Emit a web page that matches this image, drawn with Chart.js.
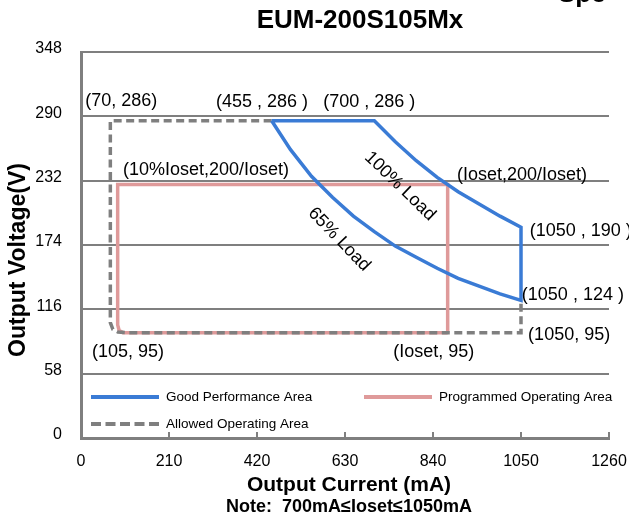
<!DOCTYPE html>
<html>
<head>
<meta charset="utf-8">
<script src="https://cdn.jsdelivr.net/npm/chart.js@4/dist/chart.umd.min.js"></script>
<style>
body{margin:0;background:#fff;}
</style>
</head>
<body>
<canvas id="chart" width="629" height="519"></canvas>
<script>
// axis ticks
var currentTicks = [0, 210, 420, 630, 840, 1050, 1260];
var voltageTicks = [0, 58, 116, 174, 232, 290, 348];

// Good Performance Area (100% load curve, then 65% load curve back)
var goodCurrent = [455, 700, 750, 800, 850, 900, 950, 1000, 1050, 1050, 1000, 950, 900, 850, 800, 750, 700, 650, 600, 550, 500, 455];
var goodVoltage = [286, 286, 267, 250, 235, 222, 211, 200, 190, 124, 130, 137, 144, 153, 163, 173, 186, 200, 217, 236, 260, 286];

// Programmed Operating Area (Ioset = 875mA)
var progCurrent = [875, 875, 87.5, 87.5, 91, 100, 875];
var progVoltage = [95, 228.6, 228.6, 102, 97, 95, 95];

// Allowed Operating Area
var allowCurrent = [455, 70, 70, 76, 88, 105, 1050, 1050];
var allowVoltage = [286, 286, 104, 98, 95.5, 95, 95, 124];

var seriesNames = ['Good Performance Area', 'Programmed Operating Area', 'Allowed Operating Area'];

var notes = [
    {text: '(70, 286)', i: 10, v: 304},
    {text: '(455 , 286 )', i: 322, v: 303},
    {text: '(700 , 286 )', i: 578, v: 303},
    {text: '(10%Ioset,200/Ioset)', i: 100, v: 242},
    {text: '(Ioset,200/Ioset)', i: 897, v: 237},
    {text: '(1050 , 190 )', i: 1071, v: 187},
    {text: '(1050 , 124 )', i: 1052, v: 129},
    {text: '(1050, 95)', i: 1067, v: 93},
    {text: '(Ioset, 95)', i: 745, v: 77.5},
    {text: '(105, 95)', i: 26, v: 77.5},
    {text: '100% Load', i: 761, v: 227, angle: 44, center: true},
    {text: '65% Load', i: 616, v: 179, angle: 46, center: true}
];

function toPoints(xs, ys) {
    var pts = [];
    for (var i = 0; i < xs.length; i++) pts.push({x: xs[i], y: ys[i]});
    return pts;
}

var blue = '#3a7bd5';
var pink = '#df9a9a';
var gray = '#7f7f7f';
var FONT = "'Liberation Sans', Arial, sans-serif";

var extras = {
    id: 'extras',
    afterDraw: function (chart) {
        var ctx = chart.ctx;
        var xs = chart.scales.x, ys = chart.scales.y;
        var area = chart.chartArea;
        ctx.save();
        ctx.fillStyle = '#000';

        // tick marks on the bottom axis, pointing up
        ctx.strokeStyle = gray;
        ctx.lineWidth = 2;
        currentTicks.forEach(function (t) {
            var px = xs.getPixelForValue(t);
            ctx.beginPath();
            ctx.moveTo(px, area.bottom);
            ctx.lineTo(px, area.bottom - 6);
            ctx.stroke();
        });

        // titles
        ctx.textAlign = 'center';
        ctx.textBaseline = 'middle';
        ctx.font = 'bold 26px ' + FONT;
        ctx.fillText('EUM-200S105Mx', 360, 21);
        ctx.textAlign = 'left';
        ctx.textBaseline = 'alphabetic';
        ctx.font = 'bold 26px ' + FONT;
        ctx.fillText('Spe', 558, 2);

        ctx.textAlign = 'center';
        ctx.textBaseline = 'middle';
        ctx.font = 'bold 21px ' + FONT;
        ctx.fillText('Output Current (mA)', 349, 485);
        ctx.font = 'bold 18px ' + FONT;
        ctx.fillText('Note:  700mA\u2264Ioset\u22641050mA', 349, 507);

        ctx.save();
        ctx.translate(19, 260);
        ctx.rotate(-Math.PI / 2);
        ctx.font = 'bold 23px ' + FONT;
        ctx.fillText('Output Voltage(V)', 0, 0);
        ctx.restore();

        // point annotations
        ctx.font = '18px ' + FONT;
        notes.forEach(function (n) {
            var px = xs.getPixelForValue(n.i), py = ys.getPixelForValue(n.v);
            ctx.save();
            ctx.translate(px, py);
            if (n.angle) ctx.rotate(n.angle * Math.PI / 180);
            ctx.textAlign = n.center ? 'center' : 'left';
            ctx.textBaseline = 'middle';
            ctx.fillText(n.text, 0, 0);
            ctx.restore();
        });

        // legend
        var items = [
            {color: blue, dash: [], x: 91, y: 397},
            {color: pink, dash: [], x: 364, y: 397},
            {color: gray, dash: [10, 4.5], x: 91, y: 424}
        ];
        ctx.font = '13.5px ' + FONT;
        ctx.textAlign = 'left';
        items.forEach(function (it, k) {
            ctx.strokeStyle = it.color;
            ctx.lineWidth = 4;
            ctx.setLineDash(it.dash);
            ctx.beginPath();
            ctx.moveTo(it.x, it.y);
            ctx.lineTo(it.x + 68, it.y);
            ctx.stroke();
            ctx.setLineDash([]);
            ctx.fillText(seriesNames[k], it.x + 75, it.y);
        });
        ctx.restore();
    }
};

var ctx = document.getElementById('chart').getContext('2d');

new Chart(ctx, {
    type: 'scatter',
    data: {
        datasets: [{
            label: seriesNames[0],
            data: toPoints(goodCurrent, goodVoltage),
            showLine: true,
            borderColor: blue,
            borderWidth: 3.5,
            pointRadius: 0,
            order: 0
        }, {
            label: seriesNames[1],
            data: toPoints(progCurrent, progVoltage),
            showLine: true,
            borderColor: pink,
            borderWidth: 3.5,
            pointRadius: 0,
            order: 2
        }, {
            label: seriesNames[2],
            data: toPoints(allowCurrent, allowVoltage),
            showLine: true,
            borderColor: gray,
            borderWidth: 3.5,
            borderDash: [8, 4.5],
            pointRadius: 0,
            order: 1
        }]
    },
    options: {
        responsive: false,
        animation: false,
        devicePixelRatio: 1,
        layout: {padding: {left: 0, right: 20, top: 52, bottom: 0}},
        plugins: {
            legend: {display: false},
            title: {display: false},
            tooltip: {enabled: false}
        },
        scales: {
            x: {
                type: 'linear',
                min: 0,
                max: 1260,
                afterBuildTicks: function (s) { s.ticks = currentTicks.map(function (v) { return {value: v}; }); },
                afterFit: function (s) { s.height = 81; s.paddingLeft = 0; s.paddingRight = 0; },
                grid: {display: false, drawTicks: false},
                border: {display: true, color: gray, width: 3},
                ticks: {
                    color: '#000', font: {family: FONT, size: 16}, padding: 14, maxRotation: 0,
                    callback: function (v) { return String(v); }
                }
            },
            y: {
                type: 'linear',
                min: 0,
                max: 348,
                afterBuildTicks: function (s) { s.ticks = voltageTicks.map(function (v) { return {value: v}; }); },
                afterFit: function (s) { s.width = 81; s.paddingTop = 0; s.paddingBottom = 0; },
                grid: {color: gray, lineWidth: 2, drawTicks: false},
                border: {display: true, color: gray, width: 3},
                ticks: {color: '#000', font: {family: FONT, size: 16}, padding: 19, labelOffset: -3}
            }
        }
    },
    plugins: [extras]
});
</script>
</body>
</html>
